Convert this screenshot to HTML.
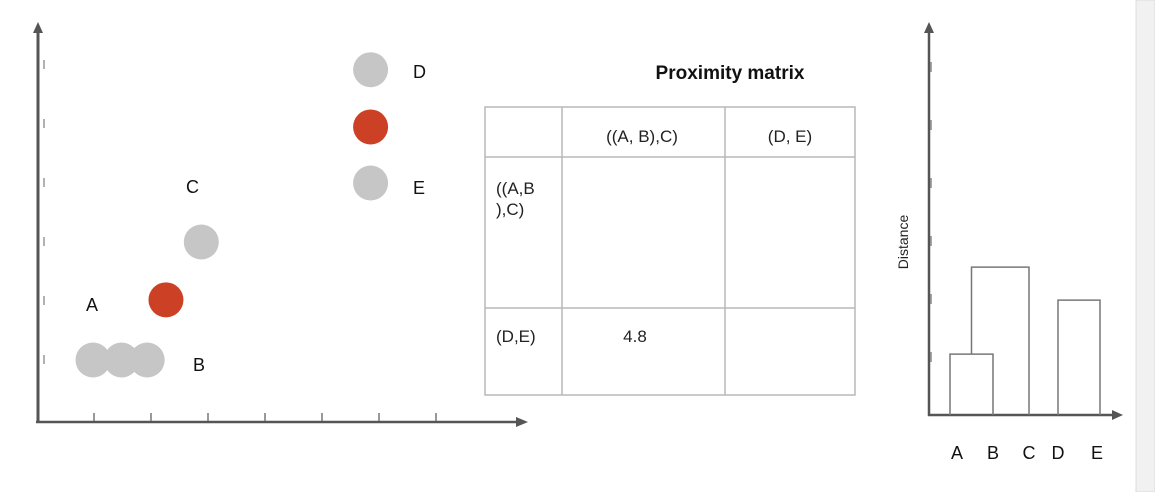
<!DOCTYPE html>
<html><head><meta charset="utf-8"><style>
body{margin:0;background:#fff;width:1155px;height:492px;overflow:hidden;font-family:"Liberation Sans",Arial,sans-serif}
svg text{font-family:"Liberation Sans",Arial,sans-serif}
</style></head><body>
<svg id="s" width="1155" height="492" xmlns="http://www.w3.org/2000/svg">
<rect x="1136" y="0" width="19" height="492" fill="#f1f1f1" stroke="#dcdcdc"/>
<g id="scatter"></g>
<g stroke="#b8b8b8" stroke-width="1.5" fill="none">
<rect x="485" y="107" width="370" height="288"/>
<line x1="485" y1="157" x2="855" y2="157"/>
<line x1="485" y1="308" x2="855" y2="308"/>
<line x1="562" y1="107" x2="562" y2="395"/>
<line x1="725" y1="107" x2="725" y2="395"/>
</g>
<text x="730" y="79" font-size="19" font-weight="bold" text-anchor="middle" fill="#111">Proximity matrix</text>
<g font-size="17" fill="#222">
<text x="642" y="142" text-anchor="middle">((A, B),C)</text>
<text x="790" y="142" text-anchor="middle">(D, E)</text>
<text x="496" y="194">((A,B</text>
<text x="496" y="215">),C)</text>
<text x="496" y="342">(D,E)</text>
<text x="635" y="342" text-anchor="middle">4.8</text>
</g>
<g id="dendro"></g>
</svg>
<script>
const NS="http://www.w3.org/2000/svg";
// scatter data
const ptLabels=["B1","B2","B3","mid-AB","C","E","mid-DE","D"];
const ptX=[1,1.5,1.95,2.28,2.9,5.87,5.87,5.87];
const ptY=[1,1,1,2.02,3,4,4.95,5.92];
const ptRed=[0,0,0,1,0,0,1,0];
const xTicks=[1,2,3,4,5,6,7];
const yTicks=[1,2,3,4,5,6];
// dendrogram data
const leaves=["A","B","C","D","E"];
const mergeAB=1.05, mergeABC=2.55, mergeDE=1.98;
const dTicks=[1,2,3,4,5,6];

const sx=v=>36+57*v, sy=v=>419-59*v;
const dx=[950,993,1029,1058,1100];
const dy=v=>415-58*v;
function mk(p,t,a){const e=document.createElementNS(NS,t);for(const k in a)e.setAttribute(k,a[k]);p.appendChild(e);return e;}
const sc=document.getElementById('scatter');
let e=mk(sc,'line',{x1:38,y1:423,x2:38,y2:30,stroke:'#555','stroke-width':3});

e=mk(sc,'polygon',{points:'33,33 38,22 43,33',fill:'#555'});

e=mk(sc,'line',{x1:36,y1:422,x2:518,y2:422,stroke:'#555','stroke-width':2.5});

e=mk(sc,'polygon',{points:'516,417 528,422 516,427',fill:'#555'});

xTicks.forEach(v=>{const t=mk(sc,'line',{x1:sx(v)+1,y1:413,x2:sx(v)+1,y2:421,stroke:'#777','stroke-width':1.5});
});
yTicks.forEach(v=>{const t=mk(sc,'line',{x1:44,y1:sy(v)-5,x2:44,y2:sy(v)+4,stroke:'#999','stroke-width':1.5});
});
ptX.forEach((v,i)=>{const c=mk(sc,'circle',{cx:sx(v),cy:sy(ptY[i]),r:17.5,fill:ptRed[i]?'#cc4125':'#c6c6c6'});
});
[["D",413,78],["E",413,194],["C",186,193],["A",86,311],["B",193,371]].forEach(l=>{
const t=mk(sc,'text',{x:l[1],y:l[2],'font-size':18,fill:'#111'});t.textContent=l[0];
});

const dg=document.getElementById('dendro');
e=mk(dg,'line',{x1:929,y1:416,x2:929,y2:30,stroke:'#555','stroke-width':2.5});

e=mk(dg,'polygon',{points:'924,33 929,22 934,33',fill:'#555'});

e=mk(dg,'line',{x1:928,y1:415,x2:1114,y2:415,stroke:'#555','stroke-width':2.5});

e=mk(dg,'polygon',{points:'1112,410 1123,415 1112,420',fill:'#555'});

dTicks.forEach(v=>{const t=mk(dg,'line',{x1:931,y1:dy(v)-5,x2:931,y2:dy(v)+5,stroke:'#888','stroke-width':1.5});
});
const st={stroke:'#777','stroke-width':1.5,fill:'none'};
function br(x1,x2,h,b1,b2,name){const p=mk(dg,'path',Object.assign({d:`M${x1},${b1} V${dy(h)} H${x2} V${b2}`},st));
}
br(dx[0],dx[1],mergeAB,415,415,'branch-ab');
br((dx[0]+dx[1])/2,dx[2],mergeABC,dy(mergeAB),415,'branch-abc');
br(dx[3],dx[4],mergeDE,415,415,'branch-de');
leaves.forEach((l,i)=>{const t=mk(dg,'text',{x:dx[i]+(i==0?7:i==4?-3:0),y:459,'font-size':18,fill:'#111','text-anchor':'middle'});t.textContent=l;
});
e=mk(dg,'text',{x:0,y:0,'font-size':14,fill:'#222','text-anchor':'middle',transform:'translate(908,242) rotate(-90)'});
e.textContent='Distance';

</script>
</body></html>
